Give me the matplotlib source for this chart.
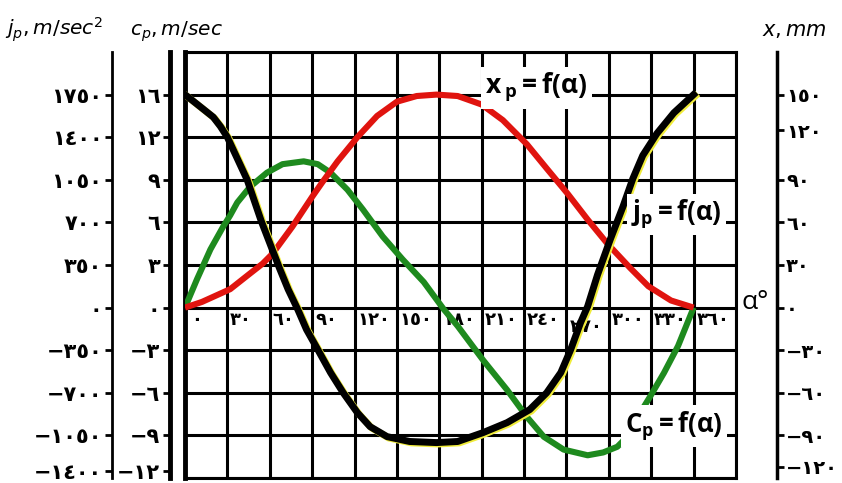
import matplotlib.pyplot as plt
import matplotlib.patheffects as pe

plt.rcParams['mathtext.fontset'] = 'custom'
plt.rcParams['mathtext.rm'] = 'Open Sans'
plt.rcParams['mathtext.it'] = 'Open Sans:italic'
plt.rcParams['mathtext.bf'] = 'Open Sans:bold'

# crank angle, degrees
alpha = [0, 12, 32, 46, 55, 62, 76, 90, 97, 108, 122, 136, 150, 164, 178,
         193, 210, 225, 237, 242, 256, 271, 285, 299, 315, 328, 344, 360]
# piston displacement x_p, mm
x_p = [0, 4, 13, 24, 31, 38, 57, 78, 88, 103, 120, 135, 145, 149, 150,
       149, 143, 132, 120, 115, 98, 80, 62, 45, 28, 15, 5, 0]

alpha_c = [0, 8.5, 18, 27, 32, 37, 46, 58, 69, 84, 94, 103, 115, 126, 140,
           154, 169, 183, 193, 211, 228, 242, 254, 268, 285, 296, 306, 310,
           329, 339, 349, 360]
# piston speed c_p, m/sec
c_p = [0, 2.0, 4.1, 5.7, 6.5, 7.4, 8.5, 9.5, 10.1, 10.3, 10.1, 9.5, 8.3,
       6.9, 5.0, 3.4, 1.8, -0.1, -1.3, -3.7, -5.8, -7.7, -9.1, -10.0, -10.4,
       -10.2, -9.8, -9.4, -6.3, -4.6, -2.7, 0]

alpha_j = [0, 13, 20, 25, 30, 36, 44, 49, 54, 60, 67, 73, 80, 86, 94, 103,
           112, 122, 131, 143, 159, 178, 193, 211, 228, 244, 256, 266, 273,
           280, 285, 292, 301, 310, 317, 324, 334, 346, 360]
# piston acceleration j_p, m/sec^2
j_p = [1750, 1630, 1565, 1490, 1400, 1250, 1050, 880, 710, 530, 320, 150,
       -20, -180, -345, -534, -700, -863, -978, -1060, -1100, -1109, -1100,
       -1027, -945, -838, -700, -534, -345, -123, 10, 270, 560, 830, 1060,
       1250, 1430, 1600, 1750]

deg_ticks = [0, 30, 60, 90, 120, 150, 180, 210, 240, 270, 300, 330, 360]
deg_labels = ['٠', '٣٠', '٦٠', '٩٠', '١٢٠', '١٥٠', '١٨٠', '٢١٠', '٢٤٠',
              '٢٧٠', '٣٠٠', '٣٣٠', '٣٦٠']
j_ticks = [1750, 1400, 1050, 700, 350, 0, -350, -700, -1050, -1340]
j_labels = ['١٧٥٠', '١٤٠٠', '١٠٥٠', '٧٠٠', '٣٥٠', '٠', '−٣٥٠', '−٧٠٠',
            '−١٠٥٠', '−١٤٠٠']
c_ticks = [15, 12, 9, 6, 3, 0, -3, -6, -9, -11.5]
c_labels = ['١٦', '١٢', '٩', '٦', '٣', '٠', '−٣', '−٦', '−٩', '−١٢']
x_ticks = [150, 125, 90, 60, 30, 0, -30, -60, -90, -112]
x_labels = ['١٥٠', '١٢٠', '٩٠', '٦٠', '٣٠', '٠', '−٣٠', '−٦٠', '−٩٠',
            '−١٢٠']

fig = plt.figure(figsize=(8.42, 4.83), dpi=100)
ax = fig.add_axes([185 / 842, 5 / 483, 551 / 842, 426 / 483])
ax.set_xlim(0, 390)
ax.set_ylim(-4, 6)
ax.set_xticks(range(0, 391, 30))
ax.set_yticks(range(-4, 7))
ax.grid(True, color='black', lw=2.2)
ax.tick_params(length=0, labelbottom=False, labelleft=False)
for s in ax.spines.values():
    s.set_linewidth(2.2)
ax.spines['left'].set_linewidth(3.5)

# degree labels sit inside the grid, under the zero line
for d, lab in zip(deg_ticks, deg_labels):
    dy = -0.45 if d == 270 else -0.3
    ax.text(d + (4 if d == 0 else 2), dy, lab, fontsize=13,
            fontweight='bold', ha='left', va='center')
ax.text(394, 0.12, 'α°', fontsize=19, family='Open Sans', ha='left',
        va='center')

tick_kw = dict(labelsize=15, width=2, length=5, pad=2)
line_kw = dict(lw=4.4, solid_joinstyle='round', solid_capstyle='butt')

axc = ax.twinx()
axc.set_ylim(-12, 18)
axc.yaxis.tick_left()
for k in ['top', 'bottom', 'right']:
    axc.spines[k].set_visible(False)
axc.spines['left'].set_visible(True)
axc.spines['left'].set_position(('outward', 10.8))
axc.spines['left'].set_linewidth(3.5)
axc.set_yticks(c_ticks, labels=c_labels)
axc.tick_params(axis='y', **tick_kw)
axc.plot(alpha_c, c_p, color='#1e8a1e', **line_kw)

axx = ax.twinx()
axx.set_ylim(-120, 180)
for k in ['top', 'bottom', 'left']:
    axx.spines[k].set_visible(False)
axx.spines['right'].set_position(('outward', 29.5))
axx.spines['right'].set_linewidth(2.5)
axx.set_yticks(x_ticks, labels=x_labels)
axx.tick_params(axis='y', labelsize=14, width=2, length=5, pad=1.5)
axx.plot(alpha, x_p, color='#e0140f', **line_kw)

axj = ax.twinx()
axj.set_ylim(-1400, 2100)
axj.yaxis.tick_left()
for k in ['top', 'bottom', 'right']:
    axj.spines[k].set_visible(False)
axj.spines['left'].set_visible(True)
axj.spines['left'].set_position(('outward', 52.6))
axj.spines['left'].set_linewidth(2)
axj.set_yticks(j_ticks, labels=j_labels)
axj.tick_params(axis='y', **tick_kw)
for t in axj.get_yticklabels() + axc.get_yticklabels() + axx.get_yticklabels():
    t.set_fontweight('bold')
axj.plot(alpha_j, j_p, color='black', lw=5, solid_joinstyle='round',
         path_effects=[pe.SimpleLineShadow(offset=(1.2, -1.0),
                                           shadow_color='#f0ec3a', alpha=1,
                                           rho=1),
                       pe.Normal()])

box = dict(facecolor='white', edgecolor='none', pad=3)
axj.text(212.5, 5.16, r'$\mathbf{x\,_p = f(α)}$', transform=ax.transData,
         fontsize=19, ha='left', va='center', bbox=box, zorder=10)
axj.text(316, 2.18, r'$\mathbf{j_p = f(α)}$', transform=ax.transData,
         fontsize=18.5, ha='left', va='center', bbox=box, zorder=10)
axj.text(311.5, -2.78, r'$\mathbf{C_p= f(α)}$', transform=ax.transData,
         fontsize=18.5, ha='left', va='center', bbox=box, zorder=10)

fig.text(5 / 842, 1 - 36 / 483, r'$j_p,m/sec^2$', fontsize=14.5,
         math_fontfamily='dejavusans', va='baseline')
fig.text(130 / 842, 1 - 36 / 483, r'$c_p,m/sec$', fontsize=14.5,
         math_fontfamily='dejavusans', va='baseline')
fig.text(762 / 842, 1 - 36 / 483, r'$x,mm$', fontsize=15,
         math_fontfamily='dejavusans', va='baseline')

fig.savefig('out.png', dpi=100)
